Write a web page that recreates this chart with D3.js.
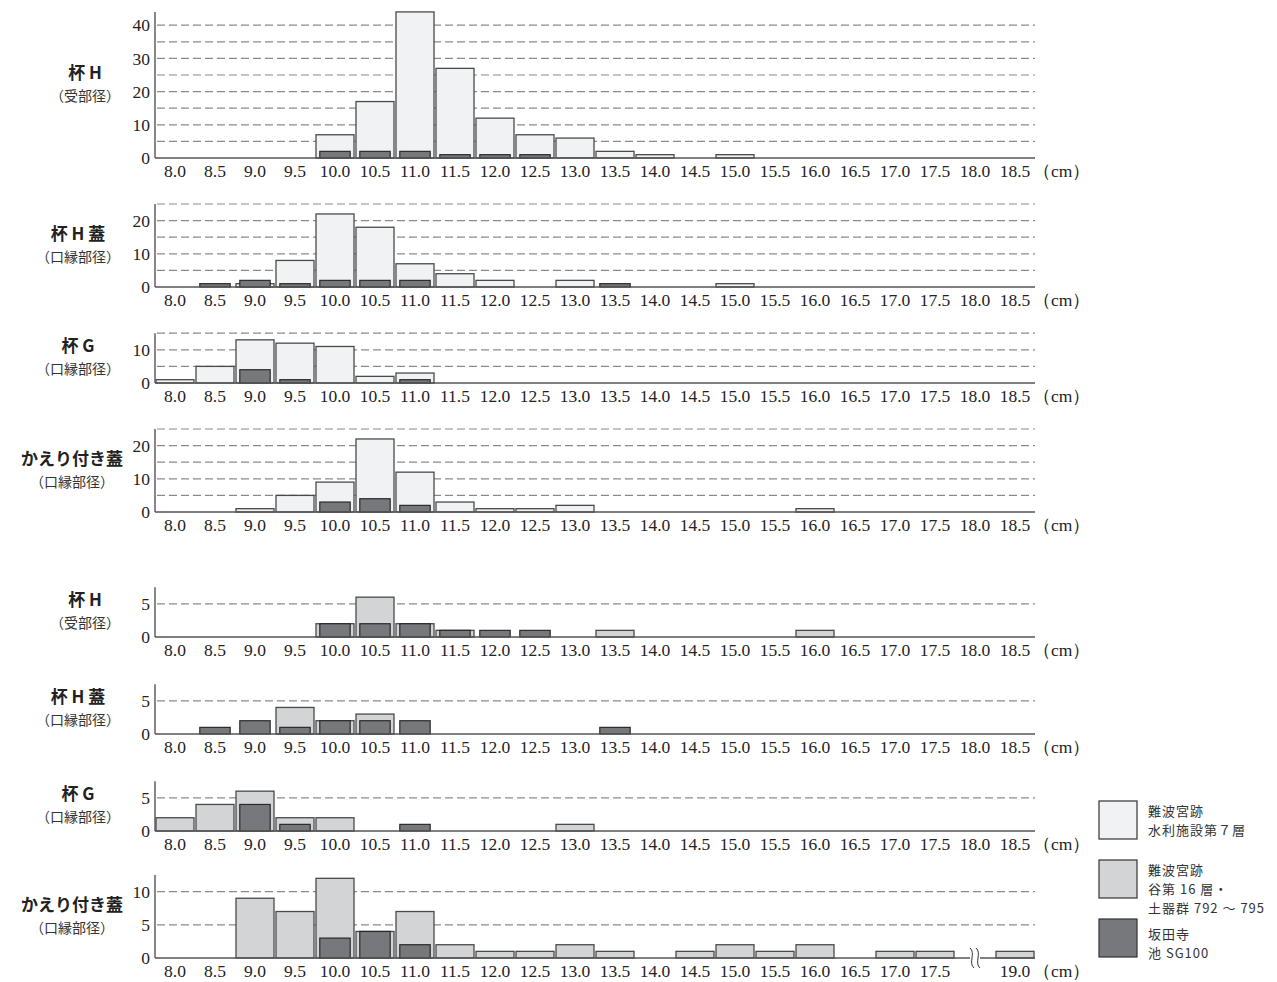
<!DOCTYPE html>
<html>
<head>
<meta charset="utf-8">
<script src="https://cdn.jsdelivr.net/npm/d3@7/dist/d3.min.js"></script>
<style>
  body { margin: 0; background: #fff; }
  svg text { fill: #222; }
  .tick-label { font-family: 'Liberation Serif', 'DejaVu Serif', serif; font-size: 17.5px; }
  .panel-title { font-family: 'Noto Sans CJK JP', sans-serif; font-size: 17px; font-weight: 700; }
  .panel-sub { font-family: 'Noto Sans CJK JP', sans-serif; font-size: 14px; fill: #333; }
  .legend-label { font-family: 'Noto Sans CJK JP', sans-serif; font-size: 13px; letter-spacing: 1px; fill: #333; }
</style>
</head>
<body>
<script>
// size classes (cm)
const sizes = ['8.0', '8.5', '9.0', '9.5', '10.0', '10.5', '11.0', '11.5', '12.0', '12.5', '13.0',
  '13.5', '14.0', '14.5', '15.0', '15.5', '16.0', '16.5', '17.0', '17.5', '18.0', '18.5'];
// last panel skips 18.0-18.5 with a break mark, then 19.0
const sizesLast = ['8.0', '8.5', '9.0', '9.5', '10.0', '10.5', '11.0', '11.5', '12.0', '12.5', '13.0',
  '13.5', '14.0', '14.5', '15.0', '15.5', '16.0', '16.5', '17.0', '17.5', '', '19.0'];

// 難波宮跡 水利施設第7層
const suiriHaiH     = [0, 0, 0, 0, 7, 17, 44, 27, 12, 7, 6, 2, 1, 0, 1, 0, 0, 0, 0, 0, 0, 0];
const suiriHaiHFuta = [0, 0, 1, 8, 22, 18, 7, 4, 2, 0, 2, 0, 0, 0, 1, 0, 0, 0, 0, 0, 0, 0];
const suiriHaiG     = [1, 5, 13, 12, 11, 2, 3, 0, 0, 0, 0, 0, 0, 0, 0, 0, 0, 0, 0, 0, 0, 0];
const suiriKaeri    = [0, 0, 1, 5, 9, 22, 12, 3, 1, 1, 2, 0, 0, 0, 0, 0, 1, 0, 0, 0, 0, 0];

// 難波宮跡 谷第16層・土器群792〜795
const taniHaiH     = [0, 0, 0, 0, 2, 6, 2, 1, 0, 0, 0, 1, 0, 0, 0, 0, 1, 0, 0, 0, 0, 0];
const taniHaiHFuta = [0, 0, 0, 4, 2, 3, 0, 0, 0, 0, 0, 0, 0, 0, 0, 0, 0, 0, 0, 0, 0, 0];
const taniHaiG     = [2, 4, 6, 2, 2, 0, 0, 0, 0, 0, 1, 0, 0, 0, 0, 0, 0, 0, 0, 0, 0, 0];
const taniKaeri    = [0, 0, 9, 7, 12, 4, 7, 2, 1, 1, 2, 1, 0, 1, 2, 1, 2, 0, 1, 1, 0, 1];

// 坂田寺 池SG100
const sakataHaiH     = [0, 0, 0, 0, 2, 2, 2, 1, 1, 1, 0, 0, 0, 0, 0, 0, 0, 0, 0, 0, 0, 0];
const sakataHaiHFuta = [0, 1, 2, 1, 2, 2, 2, 0, 0, 0, 0, 1, 0, 0, 0, 0, 0, 0, 0, 0, 0, 0];
const sakataHaiG     = [0, 0, 4, 1, 0, 0, 1, 0, 0, 0, 0, 0, 0, 0, 0, 0, 0, 0, 0, 0, 0, 0];
const sakataKaeri    = [0, 0, 0, 0, 3, 4, 2, 0, 0, 0, 0, 0, 0, 0, 0, 0, 0, 0, 0, 0, 0, 0];

const legendLabels = [
  ['難波宮跡', '水利施設第７層'],
  ['難波宮跡', '谷第 16 層・', '土器群 792 ～ 795'],
  ['坂田寺', '池 SG100']
];

const LIGHT = '#f1f2f4';
const MID = '#d3d4d6';
const DARK = '#77787b';

const width = 1277;
const height = 982;
const plotLeft = 155;
const plotRight = 1035;
const upperK = 3.32;   // px per count, upper block
const lowerK = 6.64;   // px per count, lower block

const panels = [
  { title: '杯 H', sub: '（受部径）', cats: sizes, back: suiriHaiH, front: sakataHaiH, fill: LIGHT,
    max: 44, ticks: [0, 10, 20, 30, 40], grid: 5, base: 158, k: upperK, tx: 85 },
  { title: '杯 H 蓋', sub: '（口縁部径）', cats: sizes, back: suiriHaiHFuta, front: sakataHaiHFuta, fill: LIGHT,
    max: 25, ticks: [0, 10, 20], grid: 5, base: 287, k: upperK, tx: 78 },
  { title: '杯 G', sub: '（口縁部径）', cats: sizes, back: suiriHaiG, front: sakataHaiG, fill: LIGHT,
    max: 15, ticks: [0, 10], grid: 5, base: 383, k: upperK, tx: 78 },
  { title: 'かえり付き蓋', sub: '（口縁部径）', cats: sizes, back: suiriKaeri, front: sakataKaeri, fill: LIGHT,
    max: 25, ticks: [0, 10, 20], grid: 5, base: 512, k: upperK, tx: 72 },
  { title: '杯 H', sub: '（受部径）', cats: sizes, back: taniHaiH, front: sakataHaiH, fill: MID,
    max: 7.5, ticks: [0, 5], grid: 5, base: 637, k: lowerK, tx: 85 },
  { title: '杯 H 蓋', sub: '（口縁部径）', cats: sizes, back: taniHaiHFuta, front: sakataHaiHFuta, fill: MID,
    max: 7.5, ticks: [0, 5], grid: 5, base: 734, k: lowerK, tx: 78 },
  { title: '杯 G', sub: '（口縁部径）', cats: sizes, back: taniHaiG, front: sakataHaiG, fill: MID,
    max: 7.5, ticks: [0, 5], grid: 5, base: 831, k: lowerK, tx: 78 },
  { title: 'かえり付き蓋', sub: '（口縁部径）', cats: sizesLast, back: taniKaeri, front: sakataKaeri, fill: MID,
    max: 12.5, ticks: [0, 5, 10], grid: 5, base: 958, k: lowerK, tx: 72, breakAt: 20 }
];

var svg = d3.select('body').append('svg')
  .attr('width', width)
  .attr('height', height)
  .attr('viewBox', '0 0 ' + width + ' ' + height);

panels.forEach(function(p) { drawPanel(svg, p); });
drawLegend(svg);

function drawPanel(svg, p) {
  var g = svg.append('g');
  var x = d3.scaleBand().domain(d3.range(p.cats.length)).range([plotLeft, plotRight]);
  var y = d3.scaleLinear().domain([0, p.max]).range([p.base, p.base - p.max * p.k]);

  // dashed guides
  var gridVals = d3.range(p.grid, p.max + 0.01, p.grid);
  g.selectAll('.grid').data(gridVals).enter().append('line')
    .attr('x1', plotLeft + 2).attr('x2', plotRight)
    .attr('y1', function(d) { return y(d); }).attr('y2', function(d) { return y(d); })
    .attr('stroke', '#8a8a8a').attr('stroke-width', 1.2).attr('stroke-dasharray', '8,4');

  // back bars (site samples)
  var bw = x.bandwidth() - 2;
  g.selectAll('.back').data(p.back.map(function(v, i) { return { v: v, i: i }; })
      .filter(function(d) { return d.v > 0; }))
    .enter().append('rect')
    .attr('x', function(d) { return x(d.i) + 1; })
    .attr('y', function(d) { return y(d.v); })
    .attr('width', bw)
    .attr('height', function(d) { return y(0) - y(d.v); })
    .attr('fill', p.fill).attr('stroke', '#4a4a4a').attr('stroke-width', 1.3);

  // front bars (坂田寺)
  var fw = x.bandwidth() * 0.76;
  g.selectAll('.front').data(p.front.map(function(v, i) { return { v: v, i: i }; })
      .filter(function(d) { return d.v > 0; }))
    .enter().append('rect')
    .attr('x', function(d) { return x(d.i) + (x.bandwidth() - fw) / 2; })
    .attr('y', function(d) { return y(d.v); })
    .attr('width', fw)
    .attr('height', function(d) { return y(0) - y(d.v); })
    .attr('fill', DARK).attr('stroke', '#2a2a2a').attr('stroke-width', 1.2);

  // axes
  g.append('line')
    .attr('x1', plotLeft).attr('x2', plotRight).attr('y1', y(0)).attr('y2', y(0))
    .attr('stroke', '#555').attr('stroke-width', 1.6);
  g.append('line')
    .attr('x1', plotLeft).attr('x2', plotLeft).attr('y1', y(0)).attr('y2', y(p.max))
    .attr('stroke', '#555').attr('stroke-width', 1.4);

  g.selectAll('.ytick').data(p.ticks).enter().append('text')
    .attr('class', 'tick-label')
    .attr('x', plotLeft - 5)
    .attr('y', function(d) { return y(d); })
    .attr('dy', '0.35em')
    .attr('text-anchor', 'end')
    .text(function(d) { return d; });

  g.selectAll('.xtick').data(p.cats).enter().append('text')
    .attr('class', 'tick-label')
    .attr('x', function(d, i) { return x(i) + x.bandwidth() / 2; })
    .attr('y', y(0) + 13)
    .attr('dy', '0.35em')
    .attr('text-anchor', 'middle')
    .text(function(d) { return d; });

  g.append('text')
    .attr('class', 'tick-label')
    .attr('x', plotRight - 2)
    .attr('y', y(0) + 13)
    .attr('dy', '0.35em')
    .text('（cm）');

  if (p.breakAt !== undefined) {
    var bx = x(p.breakAt) + x.bandwidth() / 2 - 3;
    var by = y(0);
    g.append('rect').attr('x', bx - 2).attr('y', by - 2).attr('width', 10).attr('height', 4).attr('fill', '#fff');
    [0, 6].forEach(function(off) {
      var cx = bx + off;
      g.append('path')
        .attr('d', 'M' + (cx - 2) + ',' + (by - 10) + ' C' + (cx + 4) + ',' + (by - 5) + ' ' + (cx - 4) + ',' + (by + 5) +
          ' ' + (cx + 2) + ',' + (by + 10))
        .attr('fill', 'none').attr('stroke', '#333').attr('stroke-width', 1);
    });
  }

  // panel labels
  var mid = p.base - (p.base - y(p.max)) / 2;
  g.append('text').attr('class', 'panel-title')
    .attr('x', p.tx).attr('y', mid - 6)
    .attr('text-anchor', 'middle')
    .text(p.title);
  g.append('text').attr('class', 'panel-sub')
    .attr('x', p.tx).attr('y', mid + 16)
    .attr('text-anchor', 'middle')
    .text(p.sub);
}

function drawLegend(svg) {
  var fills = [LIGHT, MID, DARK];
  var boxY = [801, 860, 919];
  var leg = svg.append('g');
  fills.forEach(function(f, i) {
    leg.append('rect')
      .attr('x', 1099).attr('y', boxY[i]).attr('width', 38).attr('height', 38)
      .attr('fill', f).attr('stroke', '#333').attr('stroke-width', 1.2);
    var lines = legendLabels[i];
    var top = i === 2 ? boxY[i] + 15 : boxY[i] + 10;
    lines.forEach(function(t, j) {
      leg.append('text').attr('class', 'legend-label')
        .attr('x', 1148).attr('y', top + j * 19)
        .attr('dy', '0.35em')
        .text(t);
    });
  });
}
</script>
</body>
</html>
